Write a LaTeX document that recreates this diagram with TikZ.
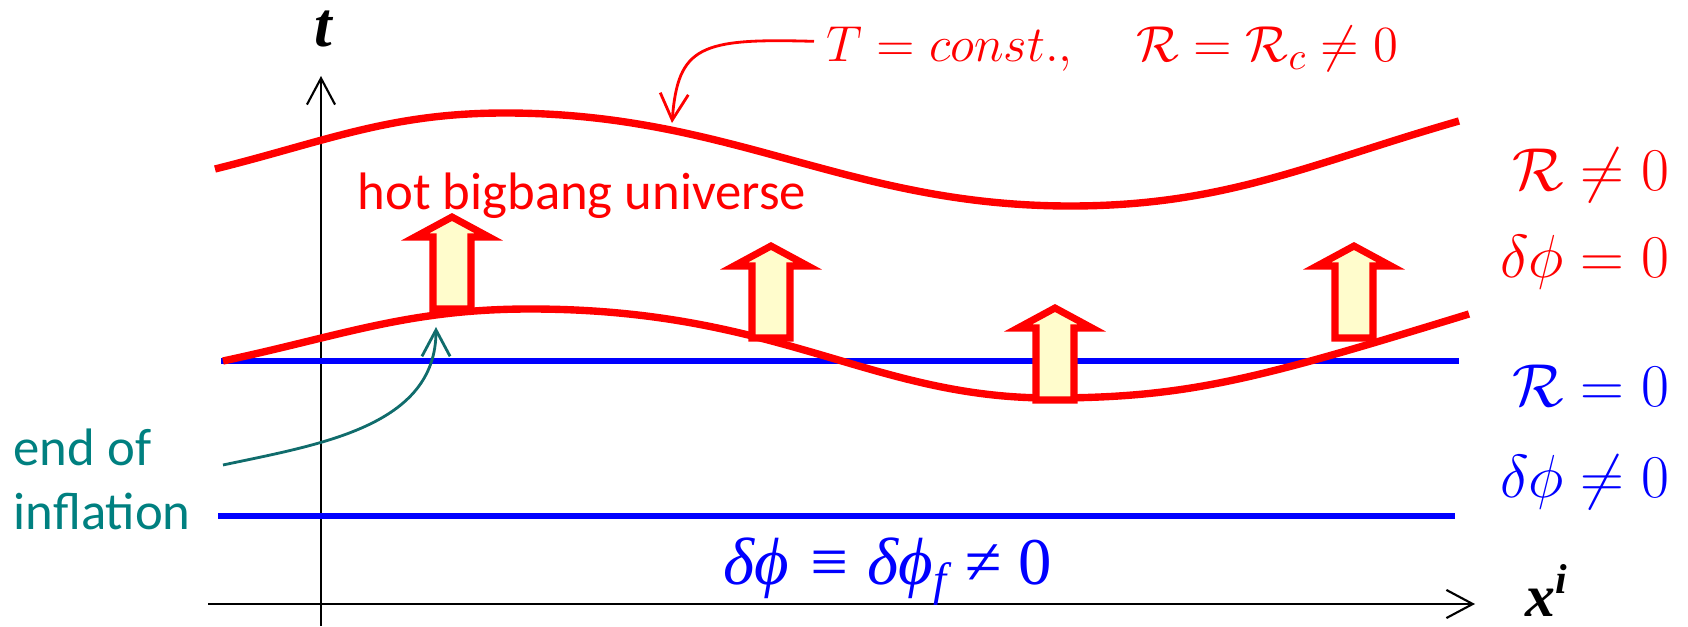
\documentclass[tikz,border=0pt]{standalone}
\usepackage{fontspec}
\newfontfamily\calib{Carlito}
\newfontfamily\tnr{Liberation Serif}
\usetikzlibrary{arrows.meta}
\definecolor{endinf}{RGB}{0,128,128}
\definecolor{endarr}{RGB}{16,108,108}
\tikzset{
	wall/.style={red, line width=2.1pt},
	gauge/.style={blue, line width=1.6pt},
	push/.style={draw=red, fill=yellow!20, line width=2pt, line join=miter},
	rlbl/.style={inner sep=0pt, anchor=base east, font=\fontsize{17}{20}\selectfont}
}
\begin{document}
\begin{tikzpicture}[>={Straight Barb[length=7.5pt,width=8pt]}]
				\useasboundingbox (0,0) rectangle (16.88,6.26);
				\draw[->, line width=0.6pt] (2.08,0.22) -- (14.75,0.22);
				\draw[->, line width=0.6pt] (3.21,0) -- (3.21,5.50);
				\node[inner sep=0pt, anchor=base west, font=\tnr\bfseries\itshape\fontsize{17}{20}\selectfont] (xlbl) at (15.25,0.10) {x\textsuperscript{i}};
				\node[inner sep=0pt, font=\tnr\bfseries\itshape\fontsize{18}{20}\selectfont] (tlbl) at (3.23,5.97) {t};
				\draw[gauge] (2.21,2.65) -- (14.59,2.65);
				\draw[gauge] (2.18,1.10) -- (14.55,1.10);
				\draw[wall] (2.15,4.57) to[out=14,in=180] (5.05,5.13) .. controls (7.33,5.13) and (8.47,4.20) .. (10.70,4.20) to[out=0,in=196] (14.59,5.05);
				\draw[wall] (2.23,2.65) to[out=12,in=180] (5.30,3.17) .. controls (7.8,3.17) and (8.7,2.28) .. (10.50,2.28) .. controls (11.9,2.28) and (12.6,2.48) .. (14.69,3.12);
				\foreach \c/\b in {4.52/3.17, 7.71/2.88, 10.55/2.26, 13.54/2.88}
					\draw[push] (\c-0.19,\b) -- (\c+0.19,\b) -- (\c+0.19,\b+0.72) -- (\c+0.37,\b+0.72) -- (\c,\b+0.92) -- (\c-0.37,\b+0.72) -- (\c-0.19,\b+0.72) -- cycle;
				\node[red, anchor=base west, inner sep=0pt, font=\calib\fontsize{15}{18}\selectfont] (hbb) at (3.57,4.16) {hot bigbang universe};
				\node[red, anchor=base west, inner sep=0pt, font=\fontsize{15.6}{19}\selectfont] (tconst) at (8.26,5.64) {$T=const.,\quad\mathcal{R}=\mathcal{R}_c\neq0$};
				\coordinate (hit) at (6.72,5.03);
				\draw[red, line width=0.8pt, ->] ([xshift=-0.12cm,yshift=0.08cm]tconst.west) .. controls (7.0,5.88) and (6.78,5.80) .. (hit);
				\node[rlbl, red] (rne) at (16.70,4.35) {$\mathcal{R}\neq0$};
				\node[rlbl, red] (dpz) at (16.70,3.48) {$\delta\phi=0$};
				\node[rlbl, blue] (rz) at (16.70,2.19) {$\mathcal{R}=0$};
				\node[rlbl, blue] (dpne) at (16.70,1.29) {$\delta\phi\neq0$};
				\node[blue, anchor=base west, inner sep=0pt, font=\tnr\fontsize{19}{22}\selectfont] (dphif) at (7.23,0.42) {\itshape δϕ ≡ δϕ\textsubscript{f} ≠ \upshape 0};
				\node[endinf, anchor=west, align=left, inner sep=0pt, font=\calib\fontsize{15}{18.2}\selectfont] (eoi) at (0.13,1.47) {end of\\inflation};
				\coordinate (eoistart) at (2.23,1.61);
				\coordinate (eoihit) at (4.36,2.99);
				\draw[endarr, line width=0.8pt, ->] (eoistart) to[out=12,in=-90] (eoihit);
			\end{tikzpicture}
\end{document}
